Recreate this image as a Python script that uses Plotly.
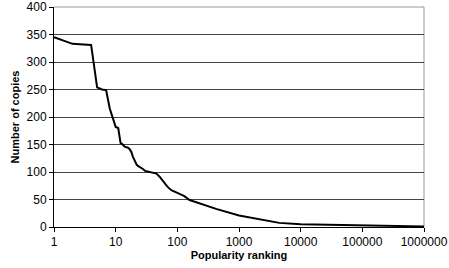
import plotly.graph_objects as go

# Popularity ranking (x) vs number of copies (y)
ranks = [1, 2, 3, 4, 5, 6, 7, 8, 9, 10, 11, 12, 13, 14, 15, 16, 17, 18, 19, 20,
         21, 22, 23, 24, 25, 26, 28, 30, 35, 40, 46, 52, 58, 65, 71, 80, 100,
         130, 158, 230, 425, 1000, 2150, 4500, 10000, 100000, 1000000]
copies = [345, 333, 332, 331, 254, 250, 249, 216, 198, 182, 180, 153, 150, 146,
          145, 144, 141, 136, 128, 122, 117, 113, 111, 110, 109, 108, 105, 102,
          100, 99, 97, 91, 83, 77, 72, 67, 62, 56, 49, 43, 33, 21, 13.5, 7.5,
          5, 3, 1]

x_tickvals = [1, 10, 100, 1000, 10000, 100000, 1000000]
x_ticktext = ["1", "10", "100", "1000", "10000", "100000", "1000000"]
y_tickvals = [0, 50, 100, 150, 200, 250, 300, 350, 400]

fig = go.Figure()
fig.add_trace(go.Scatter(x=ranks, y=copies, mode="lines",
                         line=dict(color="black", width=2), showlegend=False))

font_family = "Liberation Sans, Arial, sans-serif"

fig.update_layout(
    width=449, height=268,
    margin=dict(l=54, r=25, t=7, b=41, autoexpand=False),
    paper_bgcolor="white", plot_bgcolor="white",
    font=dict(family=font_family, size=12, color="black"),
    xaxis=dict(
        type="log", range=[0, 6], automargin=False,
        tickvals=x_tickvals, ticktext=x_ticktext,
        showgrid=False, zeroline=False,
        showline=True, linecolor="black", linewidth=1,
        ticks="outside", ticklen=4, tickcolor="black",
        tickfont=dict(size=12),
        title=dict(text="<b>Popularity ranking</b>", font=dict(size=11), standoff=2),
    ),
    yaxis=dict(
        range=[0, 400], automargin=False,
        tickvals=y_tickvals,
        showgrid=True, gridcolor="#444444", gridwidth=1,
        zeroline=False,
        showline=True, linecolor="black", linewidth=1,
        ticks="outside", ticklen=4, tickcolor="black",
        tickfont=dict(size=12),
        title=dict(text="<b>Number of copies</b>", font=dict(size=11), standoff=4),
    ),
    shapes=[
        dict(type="line", xref="paper", yref="paper", x0=0, x1=1, y0=1, y1=1,
             line=dict(color="#999999", width=1), layer="below"),
        dict(type="line", xref="paper", yref="paper", x0=1, x1=1, y0=0, y1=1,
             line=dict(color="#999999", width=1), layer="below"),
    ],
)

fig.write_html(
    "out.html",
    config={"displayModeBar": False},
    post_script="document.body.style.margin='0';document.body.style.overflow='hidden';",
)
